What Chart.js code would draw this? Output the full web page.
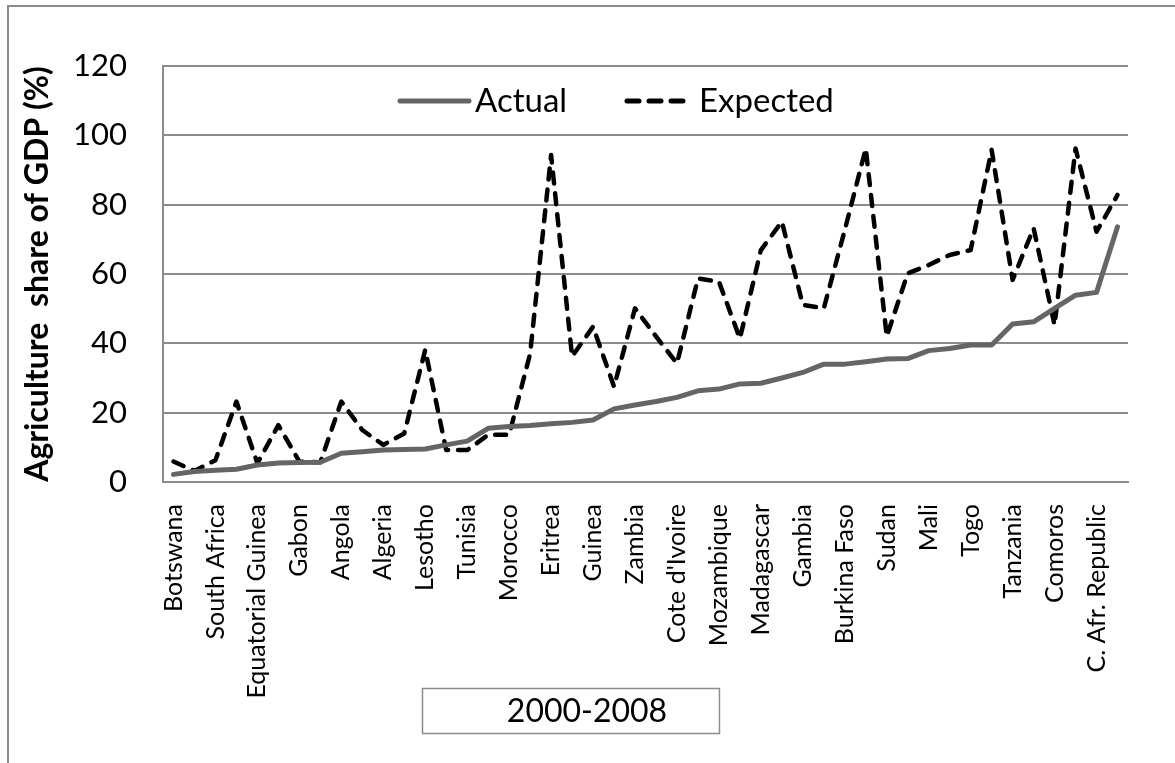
<!DOCTYPE html>
<html>
<head>
<meta charset="utf-8">
<script src="https://cdn.jsdelivr.net/npm/chart.js@4.4.1/dist/chart.umd.min.js"></script>
<style>
  html, body { margin: 0; padding: 0; background: #ffffff; }
  #wrap { position: relative; width: 1175px; height: 763px; }
</style>
</head>
<body>
<div id="wrap"><canvas id="agriChart" width="1175" height="763"></canvas></div>
<script>
'use strict';

// countries sorted by actual agriculture share (only every other one is labelled)
const countries = [
  'Botswana', 'Seychelles', 'South Africa', 'Libya', 'Equatorial Guinea', 'Djibouti',
  'Gabon', 'Congo, Rep.', 'Angola', 'Swaziland', 'Algeria', 'Cape Verde',
  'Lesotho', 'Namibia', 'Tunisia', 'Egypt', 'Morocco', 'Senegal',
  'Eritrea', 'Zimbabwe', 'Guinea', 'Mauritania', 'Zambia', 'Kenya',
  "Cote d'Ivoire", 'Cameroon', 'Mozambique', 'Benin', 'Madagascar', 'Uganda',
  'Gambia', 'Nigeria', 'Burkina Faso', 'Malawi', 'Sudan', 'Chad',
  'Mali', 'Ghana', 'Togo', 'Niger', 'Tanzania', 'Rwanda',
  'Comoros', 'Ethiopia', 'C. Afr. Republic', 'Liberia',
];

const actualShare = [
  2.2, 3.0, 3.4, 3.7, 4.9, 5.5, 5.6, 5.7, 8.3, 8.7,
  9.2, 9.4, 9.5, 10.7, 11.8, 15.5, 16.0, 16.3, 16.8, 17.2,
  17.9, 21.1, 22.2, 23.2, 24.4, 26.3, 26.8, 28.3, 28.5, 30.0,
  31.6, 34.0, 34.0, 34.7, 35.5, 35.6, 37.9, 38.5, 39.5, 39.5,
  45.6, 46.2, 50.1, 53.9, 54.7, 73.6,
];

const expectedShare = [
  5.9, 3.2, 6.3, 23.2, 5.4, 16.4, 5.9, 5.7, 23.2, 15.0,
  10.7, 14.0, 38.1, 9.2, 9.2, 13.6, 13.6, 37.0, 94.3, 36.2,
  44.8, 27.5, 50.1, 42.0, 34.2, 58.7, 57.8, 41.4, 66.9, 75.1,
  51.1, 50.1, 72.7, 96.2, 42.0, 60.2, 62.6, 65.5, 66.9, 95.8,
  58.3, 73.2, 45.3, 96.2, 72.2, 82.8,
];

const yTicks = [0, 20, 40, 60, 80, 100, 120];
const periodLabel = '2000-2008';

const COLORS = {
  actual:   '#656565',
  expected: '#000000',
  grid:     '#8c8c8c',
  frame:    '#8c8c8c',
  text:     '#000000',
};

const FONT = 'Lato';

// frame round the whole picture, legend inside the plot and the period box
const decorPlugin = {
  id: 'decor',
  beforeDraw(chart) {
    const ctx = chart.ctx;
    ctx.save();
    ctx.fillStyle = '#ffffff';
    ctx.fillRect(0, 0, chart.width, chart.height);
    ctx.strokeStyle = COLORS.frame;
    ctx.lineWidth = 2;
    ctx.beginPath();
    ctx.moveTo(8, chart.height + 5);
    ctx.lineTo(8, 6);
    ctx.lineTo(chart.width + 5, 6);
    ctx.stroke();
    ctx.restore();
  },
  afterDraw(chart) {
    const ctx = chart.ctx;
    const area = chart.chartArea;
    const ly = area.top + 35;

    ctx.save();
    ctx.lineCap = 'round';
    ctx.font = `33px ${FONT}`;
    ctx.fillStyle = COLORS.text;
    ctx.textBaseline = 'middle';

    // Actual
    ctx.strokeStyle = COLORS.actual;
    ctx.lineWidth = 5;
    ctx.beginPath();
    ctx.moveTo(area.left + 237, ly);
    ctx.lineTo(area.left + 306, ly);
    ctx.stroke();
    ctx.fillText('Actual', area.left + 312, ly);

    // Expected
    ctx.strokeStyle = COLORS.expected;
    ctx.setLineDash([12, 10]);
    ctx.beginPath();
    ctx.moveTo(area.left + 464, ly);
    ctx.lineTo(area.left + 522, ly);
    ctx.stroke();
    ctx.setLineDash([]);
    ctx.fillText('Expected', area.left + 536, ly);

    // period box under the axis labels
    ctx.strokeStyle = COLORS.frame;
    ctx.lineWidth = 1.5;
    ctx.strokeRect(422.5, 688.5, 297, 45);
    ctx.font = `32px ${FONT}`;
    ctx.textAlign = 'center';
    ctx.fillText(periodLabel, 587, 712);
    ctx.restore();
  },
};

function renderAgriChart() {
  const ctx = document.getElementById('agriChart');

  new Chart(ctx, {
    type: 'line',
    data: {
      labels: countries,
      datasets: [
        {
          label: 'Actual',
          data: actualShare,
          borderColor: COLORS.actual,
          backgroundColor: COLORS.actual,
          borderWidth: 5,
          borderJoinStyle: 'round',
          borderCapStyle: 'round',
          pointRadius: 0,
          tension: 0,
        },
        {
          label: 'Expected',
          data: expectedShare,
          borderColor: COLORS.expected,
          backgroundColor: COLORS.expected,
          borderWidth: 4.5,
          borderDash: [11, 10],
          borderJoinStyle: 'round',
          borderCapStyle: 'round',
          pointRadius: 0,
          tension: 0,
        },
      ],
    },
    options: {
      responsive: false,
      animation: false,
      layout: { padding: { left: 0, top: 66, right: 47, bottom: 0 } },
      plugins: {
        legend: { display: false },
        tooltip: { enabled: false },
      },
      scales: {
        x: {
          offset: true,
          grid: { display: false, drawTicks: false },
          border: { display: true, color: COLORS.grid, width: 2 },
          ticks: {
            autoSkip: false,
            maxRotation: 90,
            minRotation: 90,
            padding: 22,
            color: COLORS.text,
            font: { family: FONT, size: 25 },
            callback(value, index) {
              return index % 2 === 0 ? countries[index] : '';
            },
          },
          afterFit(scale) { scale.height = 281; },
        },
        y: {
          min: yTicks[0],
          max: yTicks[yTicks.length - 1],
          afterBuildTicks(scale) { scale.ticks = yTicks.map(v => ({ value: v })); },
          grid: { color: COLORS.grid, lineWidth: 2, drawTicks: false },
          border: { display: true, color: COLORS.grid, width: 2 },
          ticks: {
            padding: 36,
            color: COLORS.text,
            font: { family: FONT, size: 31 },
          },
          title: {
            display: true,
            text: 'Agriculture  share of GDP (%)',
            color: COLORS.text,
            font: { family: FONT, size: 32, weight: 'bold' },
            padding: { top: 18, bottom: 0 },
          },
          afterFit(scale) { scale.width = 163; },
        },
      },
    },
    plugins: [decorPlugin],
  });
}

renderAgriChart();
</script>
</body>
</html>
